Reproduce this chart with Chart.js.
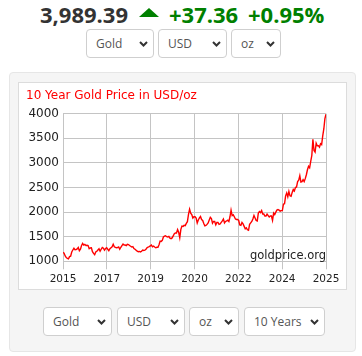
<!DOCTYPE html>
<html>
<head>
<meta charset="utf-8">
<script src="https://cdn.jsdelivr.net/npm/chart.js@4.4.1/dist/chart.umd.min.js"></script>
<style>
  html, body { margin:0; padding:0; background:#fff; width:362px; height:356px; overflow:hidden; }
  .abs { position:absolute; }
  .hdr { position:absolute; top:-1px; font:700 22px 'Open Sans', sans-serif; line-height:30px; white-space:nowrap; }
  .sel { position:absolute; height:29px; box-sizing:border-box; border:1px solid #cfcfcf; border-radius:4px; background:#fff;
         font:12px 'Open Sans', sans-serif; color:#555; line-height:27px; padding-left:9px; }
  .sel svg { position:absolute; right:5px; top:11px; }
</style>
</head>
<body>
<script>
// ---- data (semi-monthly gold price, USD/oz, Oct 2015 .. Oct 2025) ----
const prices2015 = [1180,1165, 1110,1075, 1060,1050];
const prices2016 = [1095,1105, 1190,1230, 1265,1235, 1240,1250, 1280,1215, 1245,1320, 1365,1330, 1345,1320, 1325,1320, 1255,1270, 1275,1195, 1160,1135];
const prices2017 = [1190,1205, 1230,1255, 1205,1245, 1280,1265, 1225,1260, 1275,1245, 1215,1255, 1275,1295, 1345,1295, 1285,1275, 1280,1290, 1245,1285];
const prices2018 = [1320,1350, 1330,1330, 1320,1345, 1340,1320, 1305,1290, 1300,1260, 1245,1225, 1205,1195, 1200,1190, 1205,1230, 1220,1225, 1245,1275];
const prices2019 = [1290,1300, 1315,1330, 1295,1310, 1290,1275, 1285,1285, 1335,1410, 1405,1425, 1495,1510, 1520,1500, 1495,1505, 1470,1460, 1475,1515];
const prices2020 = [1560,1575, 1575,1645, 1590,1480, 1650,1715, 1710,1730, 1725,1770, 1805,1955, 2060,1980, 1950,1880, 1905,1905, 1880,1780, 1840,1880];
const prices2021 = [1910,1850, 1830,1770, 1720,1730, 1750,1780, 1840,1895, 1870,1775, 1810,1810, 1740,1790, 1790,1750, 1760,1790, 1820,1860, 1780,1810];
const prices2022 = [1820,1835, 1810,1905, 2040,1930, 1945,1905, 1860,1850, 1850,1830, 1740,1730, 1790,1760, 1710,1660, 1680,1640, 1630,1750, 1780,1810];
const prices2023 = [1860,1930, 1880,1830, 1820,1980, 2010,1990, 2030,1960, 1960,1920, 1920,1960, 1930,1900, 1920,1920, 1830,1980, 1950,2000, 2040,2050];
const prices2024 = [2040,2020, 2030,2030, 2160,2170, 2330,2390, 2310,2420, 2330,2320, 2400,2460, 2430,2500, 2510,2620, 2650,2740, 2610,2620, 2660,2620];
const prices2025 = [2680,2760, 2860,2930, 2900,3030, 3150,3480, 3250,3220, 3400,3350, 3350,3320, 3390,3370, 3550,3690, 3900,3989];

const xTickLabels = ['2015','2017','2019','2020','2022','2024','2025'];
const yTicks = [1000,1500,2000,2500,3000,3500,4000];
const chartTitle = '10 Year Gold Price in USD/oz';
const watermark = 'goldprice.org';

const headerPrice = '3,989.39';
const headerChange = '+37.36';
const headerPct = '+0.95%';
const topSelects = ['Gold','USD','oz'];
const bottomSelects = ['Gold','USD','oz','10 Years'];
</script>

<div class="hdr" style="left:40px;color:#333;" id="hp"></div>
<div class="abs" style="left:139px;top:8px;width:0;height:0;border-left:10px solid transparent;border-right:10px solid transparent;border-bottom:9px solid #008000;"></div>
<div class="hdr" style="left:169px;color:#008000;" id="hc"></div>
<div class="hdr" style="left:248px;color:#008000;" id="hpct"></div>

<div id="selsTop"></div>

<div class="abs" style="left:9px;top:72px;width:347px;height:280px;box-sizing:border-box;background:#f5f5f5;border:1px solid #e6e6e6;border-radius:4px;"></div>
<div class="abs" style="left:18px;top:82px;width:329px;height:208px;box-sizing:border-box;background:#fff;border:1px solid #dcdcdc;"></div>
<canvas id="c" width="320" height="207" style="position:absolute;left:26px;top:85px;width:320px;height:207px;"></canvas>

<div id="selsBot"></div>

<script>
document.getElementById('hp').textContent = headerPrice;
document.getElementById('hc').textContent = headerChange;
document.getElementById('hpct').textContent = headerPct;

const chev = '<svg width="9" height="6" viewBox="0 0 9 6"><polyline points="1,1 4.5,4.5 8,1" fill="none" stroke="#333" stroke-width="2"/></svg>';
function makeSel(parent, text, left, top, width) {
  const d = document.createElement('div');
  d.className = 'sel';
  d.style.left = left + 'px'; d.style.top = top + 'px'; d.style.width = width + 'px';
  d.innerHTML = '<span></span>' + chev;
  d.firstChild.textContent = text;
  parent.appendChild(d);
}
const st = document.getElementById('selsTop');
const topPos = [[86,68],[158,69],[231,50]];
topSelects.forEach((t,i)=>makeSel(st, t, topPos[i][0], 29, topPos[i][1]));
const sb = document.getElementById('selsBot');
const botPos = [[43,69],[117,68],[189,50],[244,81]];
bottomSelects.forEach((t,i)=>makeSel(sb, t, botPos[i][0], 307, botPos[i][1]));

// ---- chart ----
const allPrices = [].concat(prices2015, prices2016, prices2017, prices2018, prices2019,
  prices2020, prices2021, prices2022, prices2023, prices2024, prices2025);
const n = allPrices.length;
const points = allPrices.map((v, i) => ({ x: i * 120 / (n - 1), y: v }));

Chart.defaults.font.family = "'DejaVu Sans', Verdana, sans-serif";
const gridColor = '#c4c4c4';

const watermarkPlugin = {
  id: 'watermark',
  afterDatasetsDraw(chart) {
    const {ctx, chartArea} = chart;
    ctx.save();
    ctx.font = "11.5px 'DejaVu Sans', Verdana, sans-serif";
    ctx.fillStyle = '#222';
    ctx.textAlign = 'right';
    ctx.textBaseline = 'alphabetic';
    ctx.fillText(watermark, chartArea.right, chartArea.bottom - 2);
    ctx.restore();
  }
};

new Chart(document.getElementById('c'), {
  type: 'line',
  data: {
    datasets: [{
      data: points,
      borderColor: '#ff0000',
      borderWidth: 1.4,
      pointRadius: 0,
      tension: 0,
      fill: false
    }]
  },
  options: {
    responsive: false,
    animation: false,
    devicePixelRatio: 1,
    layout: { padding: { left: 0, right: 20, top: 4, bottom: 0 } },
    plugins: {
      legend: { display: false },
      tooltip: { enabled: false },
      title: {
        display: true,
        text: chartTitle,
        align: 'start',
        color: '#ff0000',
        font: { size: 12, weight: 'normal' },
        padding: { top: 0, bottom: 10.3 }
      }
    },
    scales: {
      x: {
        type: 'linear',
        min: 0, max: 120,
        afterBuildTicks(scale) { scale.ticks = xTickLabels.map((_, i) => ({ value: i * 20 })); },
        ticks: {
          color: '#222',
          font: { size: 10.5 },
          padding: 4,
          maxRotation: 0,
          autoSkip: false,
          callback: (v) => xTickLabels[Math.round(v / 20)]
        },
        grid: { color: gridColor, tickLength: 8, drawTicks: true },
        border: { color: gridColor },
        afterFit(scale) { scale.height = 30.7; }
      },
      y: {
        min: 1000, max: 4000,
        afterBuildTicks(scale) { scale.ticks = yTicks.map(v => ({ value: v })); },
        ticks: {
          color: '#222',
          font: { size: 12 },
          padding: 4,
          callback: (v) => String(v)
        },
        grid: { color: gridColor, drawTicks: false },
        border: { color: gridColor },
        afterFit(scale) { scale.width = 37; }
      }
    }
  },
  plugins: [watermarkPlugin]
});
</script>
</body>
</html>
